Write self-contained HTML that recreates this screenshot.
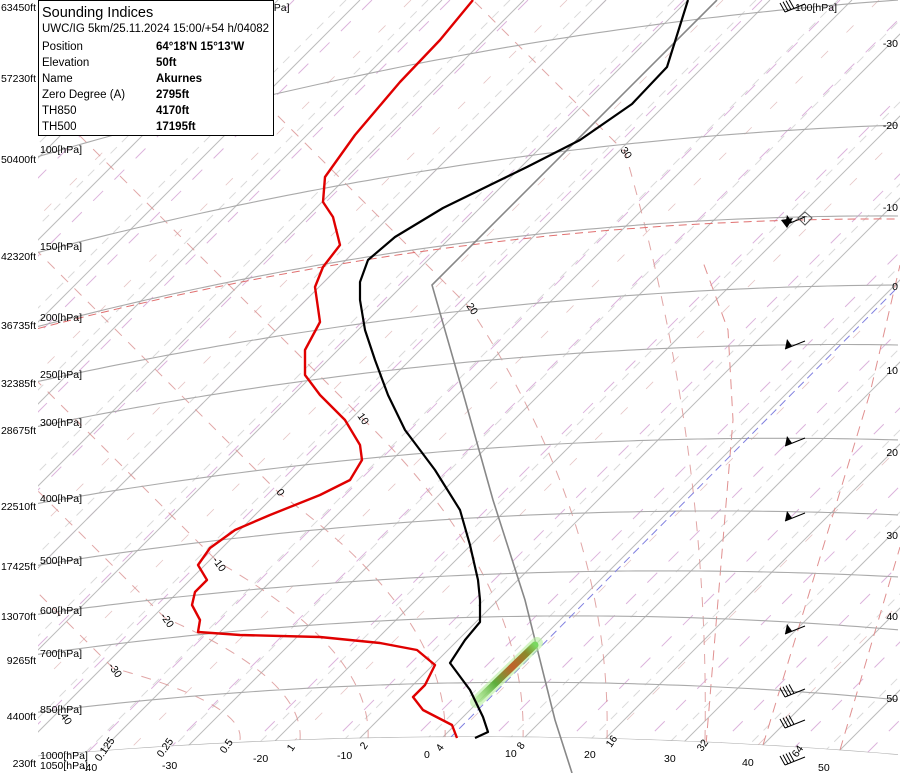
<!DOCTYPE html>
<html><head><meta charset="utf-8">
<style>
html,body{margin:0;padding:0;background:#fff;}
svg{display:block;font-family:"Liberation Sans","DejaVu Sans",sans-serif;}
#leg{position:absolute;left:38px;top:0;width:234px;height:134px;border:1px solid #000;background:#fff;font-family:"Liberation Sans",sans-serif;font-size:11.5px;color:#000;}
#leg .t{position:absolute;left:3px;top:4px;font-size:14.5px;}
#leg .r{position:absolute;left:3px;}
#leg .v{position:absolute;left:117px;font-weight:bold;}
</style></head><body>
<svg id="s" width="900" height="773" viewBox="0 0 900 773" xmlns="http://www.w3.org/2000/svg">
<defs>
<clipPath id="cp"><path id="cpp" d="M38,0 L900,0 L900,756 L38,756 Z"/></clipPath>
<linearGradient id="gr" x1="478" y1="700" x2="535" y2="645" gradientUnits="userSpaceOnUse">
<stop offset="0" stop-color="#9be07a" stop-opacity="0.5"/><stop offset="0.3" stop-color="#5cae3c"/><stop offset="0.6" stop-color="#c0622a"/><stop offset="0.85" stop-color="#8a8a2a"/><stop offset="1" stop-color="#7ad860"/></linearGradient>
</defs>
<g id="grid" clip-path="url(#cp)"></g>
<g id="fg"></g>
</svg>
<div id="leg">
<div class="t">Sounding Indices</div>
<div class="r" style="top:22px">UWC/IG 5km/25.11.2024 15:00/+54 h/04082</div>
<div class="r" style="top:40px">Position</div><div class="v" style="top:40px">64°18'N 15°13'W</div>
<div class="r" style="top:56px">Elevation</div><div class="v" style="top:56px">50ft</div>
<div class="r" style="top:72px">Name</div><div class="v" style="top:72px">Akurnes</div>
<div class="r" style="top:88px">Zero Degree (A)</div><div class="v" style="top:88px">2795ft</div>
<div class="r" style="top:104px">TH850</div><div class="v" style="top:104px">4170ft</div>
<div class="r" style="top:120px">TH500</div><div class="v" style="top:120px">17195ft</div>
</div>
<script>
var NS="http://www.w3.org/2000/svg";
var G=document.getElementById('grid'),F=document.getElementById('fg');
function el(p,t,a,txt){var e=document.createElementNS(NS,t);for(var k in a)e.setAttribute(k,a[k]);if(txt!=null)e.textContent=txt;p.appendChild(e);return e;}
function quad(p){var x1=p[0][0],y1=p[0][1],x2=p[1][0],y2=p[1][1],x3=p[2][0],y3=p[2][1];
 return function(x){return y1*(x-x2)*(x-x3)/((x1-x2)*(x1-x3))+y2*(x-x1)*(x-x3)/((x2-x1)*(x2-x3))+y3*(x-x1)*(x-x2)/((x3-x1)*(x3-x2));};}
function isoPath(f,x0){var d="";for(var x=x0;x<=900;x+=10){d+=(x==x0?"M":"L")+x+","+f(x).toFixed(1)+" ";}return d;}
var isob=[
[1050,[[40,770],[450,758],[900,773]]],
[1000,[[40,756],[450,737],[900,755]]],
[850,[[40,712],[450,683],[900,700]]],
[700,[[40,654],[450,618],[900,630]]],
[600,[[40,614],[700,571],[900,577]]],
[500,[[40,565],[700,511],[900,515]]],
[400,[[40,503],[700,439],[900,440]]],
[300,[[40,426],[700,347],[900,345]]],
[250,[[40,381],[700,291],[900,285]]],
[200,[[40,326],[700,221],[900,216]]],
[150,[[40,252],[700,137],[900,125]]],
[100,[[40,156],[700,19],[900,0]]]];
var f1000=quad(isob[1][1]);var cd="M38,0 L900,0 ";for(var x=900;x>=38;x-=10)cd+="L"+x+","+f1000(x).toFixed(1)+" ";cd+="L38,"+f1000(38).toFixed(1)+" Z";
document.getElementById('cpp').setAttribute('d',cd);
// dry adiabats (pink)
for(var c=60;c<1800;c+=78){el(G,'line',{x1:c,y1:0,x2:c-800,y2:800,stroke:'#dcb4dc','stroke-width':1,'stroke-dasharray':'14 16'});}
// brownish dashes offset
for(var c=99;c<1800;c+=156){el(G,'line',{x1:c,y1:0,x2:c-800,y2:800,stroke:'#c98080','stroke-width':0.8,'stroke-dasharray':'10 26','opacity':0.45});}
// isotherms
for(var T=-120;T<=70;T+=10){var a=1180+8.2*T;
 el(G,'line',{x1:a,y1:0,x2:a-800,y2:800,stroke:'#bcbcbc','stroke-width':1});
 el(G,'line',{x1:a-14,y1:0,x2:a-814,y2:800,stroke:'#dadada','stroke-width':1,'stroke-dasharray':'9 7'});}
// moist adiabats
var ma=[[705,625,152],[607,470,308],[523,362,418],[445,280,494],[368,218,562],[300,165,618],[240,113,668]];
ma.forEach(function(m){var xb=m[0],xl=m[1],yl=m[2];
 var d="M"+xb+",740 Q"+(xb+5)+","+(yl+(740-yl)*0.5)+" "+xl+","+yl+" L"+(xl-yl)+",0";
 el(G,'path',{d:d,fill:'none',stroke:'#d99090','stroke-width':1,'stroke-dasharray':'10 9','opacity':0.8});});
el(G,'path',{d:"M706,745 L733,420 L728,330 L703,262",fill:'none',stroke:'#e09090','stroke-width':1,'stroke-dasharray':'10 7'});
el(G,'path',{d:"M763,745 L870,393 L900,265",fill:'none',stroke:'#e09090','stroke-width':1,'stroke-dasharray':'10 7'});
el(G,'path',{d:"M840,750 L900,547",fill:'none',stroke:'#e09090','stroke-width':1,'stroke-dasharray':'10 7'});
// isobars
isob.forEach(function(b){var f=quad(b[1]);el(G,'path',{d:isoPath(f,38),fill:'none',stroke:'#aaaaaa','stroke-width':1.1});});
var f200=quad([[40,328],[700,224],[900,219]]);
el(G,'path',{d:isoPath(f200,38),fill:'none',stroke:'#e07070','stroke-width':1,'stroke-dasharray':'8 5'});
el(G,'line',{x1:450,y1:738,x2:895,y2:290,stroke:'#8080e0','stroke-width':1,'stroke-dasharray':'8 5'});
el(F,'polyline',{points:"717,0 432,285 465,400 493,500 525,600 555,720 572,773",fill:'none',stroke:'#888','stroke-width':1.6});
el(F,'line',{x1:476,y1:702,x2:537,y2:643,stroke:'#b8f0a0','stroke-width':12,'stroke-linecap':'round','opacity':0.6});
el(F,'line',{x1:479,y1:699,x2:535,y2:645,stroke:'url(#gr)','stroke-width':7,'stroke-linecap':'round'});
el(F,'polyline',{points:"473,0 440,40 400,82 355,135 325,177 323,202 333,217 340,245 323,267 315,287 320,322 305,350 305,375 320,395 345,420 360,445 362,460 350,480 320,495 270,515 235,530 210,548 198,565 207,580 195,592 192,605 200,620 198,632 240,635 320,637 380,643 417,650 435,665 425,685 413,697 423,710 452,725 457,738",fill:'none',stroke:'#e00000','stroke-width':2.4,'stroke-linejoin':'round'});
el(F,'polyline',{points:"688,0 667,67 632,104 580,140 527,167 443,208 395,237 368,260 360,282 360,300 365,330 375,360 388,395 405,430 435,470 460,510 470,545 478,580 480,600 480,622 465,640 450,663 470,690 483,717 488,732 475,738",fill:'none',stroke:'#000','stroke-width':2.2,'stroke-linejoin':'round'});
var ft=[["63450ft",7],["57230ft",78],["50400ft",159],["42320ft",256],["36735ft",325],["32385ft",383],["28675ft",430],["22510ft",506],["17425ft",566],["13070ft",616],["9265ft",660],["4400ft",716],["230ft",763]];
ft.forEach(function(f){el(F,'text',{x:36,y:f[1]+4,'font-size':10.5,'text-anchor':'end',fill:'#000'},f[0]);});
var hp=[["100[hPa]",153],["150[hPa]",250],["200[hPa]",321],["250[hPa]",378],["300[hPa]",426],["400[hPa]",502],["500[hPa]",564],["600[hPa]",614],["700[hPa]",657],["850[hPa]",713],["1000[hPa]",759],["1050[hPa]",769]];
hp.forEach(function(h){el(F,'text',{x:40,y:h[1],'font-size':10.5,fill:'#000'},h[0]);});
el(F,'text',{x:795,y:11,'font-size':10.5,fill:'#000'},"100[hPa]");
el(F,'text',{x:265,y:11,'font-size':10.5,fill:'#000'},"[hPa]");
[["-30",47],["-20",129],["-10",211],["0",290],["10",374],["20",456],["30",539],["40",620],["50",702]].forEach(function(r){el(F,'text',{x:898,y:r[1],'font-size':10.5,'text-anchor':'end',fill:'#000'},r[0]);});
[["-30",162,769],["-20",253,762],["-10",337,759],["0",424,758],["10",505,757],["20",584,758],["30",664,762],["40",742,766],["50",818,771]].forEach(function(r){el(F,'text',{x:r[1],y:r[2],'font-size':10.5,fill:'#000'},r[0]);});
el(F,'text',{x:82,y:771,'font-size':10.5,fill:'#000'},"-40");
[["0.125",100,762],["0.25",162,758],["0.5",225,754],["1",292,752],["2",365,750],["4",441,752],["8",522,750],["16",611,748],["32",702,752],["64",797,758]].forEach(function(r){el(F,'text',{x:r[1],y:r[2],'font-size':10.5,fill:'#000',transform:'rotate(-55 '+r[1]+' '+r[2]+')'},r[0]);});
[["30",620,150],["20",466,306],["10",357,416],["0",276,492],["-10",212,560],["-20",160,616],["-30",108,666],["40",60,716]].forEach(function(r){el(F,'text',{x:r[1],y:r[2],'font-size':10.5,fill:'#000',transform:'rotate(55 '+r[1]+' '+r[2]+')'},r[0]);});
function barb(y,type){var x=785;
 el(F,'line',{x1:x,y1:y,x2:x+20,y2:y-8,stroke:'#000','stroke-width':1});
 if(type=='p'){el(F,'polygon',{points:(x)+","+(y)+" "+(x+2)+","+(y-10)+" "+(x+7)+","+(y-3),fill:'#000'});}
 if(type=='f'){for(var i=0;i<4;i++){el(F,'line',{x1:x+i*3,y1:y-i*1.2,x2:x+i*3-5,y2:y-i*1.2-9,stroke:'#000','stroke-width':1});}}
}
barb(349,'p');barb(446,'p');barb(521,'p');barb(634,'p');barb(697,'f');barb(728,'f');barb(765,'f');barb(12,'f');
barb(225,'p');el(F,'polygon',{points:"781,220 787,228 793,218",fill:'#000'});
el(F,'polygon',{points:"805,212 812,218 805,225 798,218",fill:'none',stroke:'#555','stroke-width':1});
el(F,'text',{x:802,y:222,'font-size':8,fill:'#333'},"T");
</script>
</body></html>
